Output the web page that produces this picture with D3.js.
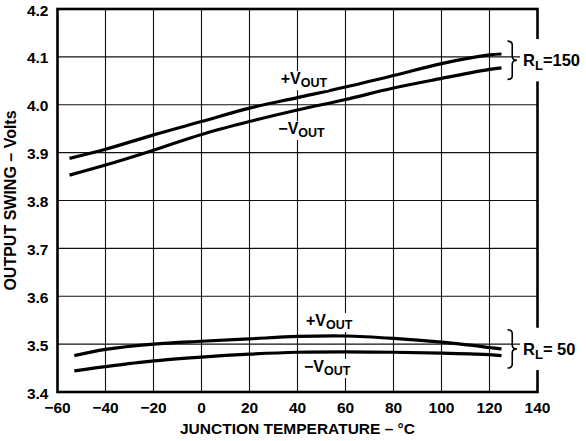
<!DOCTYPE html>
<html>
<head>
<meta charset="utf-8">
<script src="https://cdn.jsdelivr.net/npm/d3@7"></script>
<style>
  html, body { margin: 0; padding: 0; background: #fff; }
  svg { display: block; }
  text { font-family: "Liberation Sans", Arial, Helvetica, sans-serif; font-weight: bold; fill: #000; }
</style>
</head>
<body>
<svg id="chart" width="586" height="441"></svg>
<script>
// Output swing vs junction temperature, two load resistances
const tempTicks = [-60, -40, -20, 0, 20, 40, 60, 80, 100, 120, 140];
const voltTicks = [3.4, 3.5, 3.6, 3.7, 3.8, 3.9, 4.0, 4.1, 4.2];

// R_L = 150
const temps150 = [-55, -40, -20, 0, 20, 40, 60, 80, 100, 120, 125];
const plusOut150 = [3.888, 3.907, 3.937, 3.965, 3.993, 4.015, 4.037, 4.061, 4.086, 4.104, 4.106];
const minusOut150 = [3.853, 3.874, 3.905, 3.938, 3.965, 3.989, 4.011, 4.035, 4.055, 4.074, 4.077];

// R_L = 50
const temps50 = [-53, -40, -20, 0, 20, 40, 60, 80, 100, 120, 125];
const plusOut50 = [3.476, 3.489, 3.500, 3.506, 3.511, 3.516, 3.517, 3.512, 3.504, 3.493, 3.490];
const minusOut50 = [3.444, 3.453, 3.465, 3.473, 3.479, 3.483, 3.484, 3.483, 3.481, 3.478, 3.476];

const svg = d3.select("#chart");
const plotL = 57.5, plotR = 537.5, plotT = 9, plotB = 392;

const x = d3.scaleLinear().domain([-60, 140]).range([plotL, plotR]);
const y = d3.scaleLinear().domain([3.4, 4.2]).range([plotB, plotT]);

// grid
const grid = svg.append("g").attr("stroke", "#111").attr("stroke-width", 1.1);
grid.selectAll("line.v").data(tempTicks.slice(1, -1)).join("line")
  .attr("x1", d => x(d)).attr("x2", d => x(d)).attr("y1", plotT).attr("y2", plotB);
grid.selectAll("line.h").data(voltTicks.slice(1, -1)).join("line")
  .attr("y1", d => y(d)).attr("y2", d => y(d)).attr("x1", plotL).attr("x2", plotR);

// frame
svg.append("rect").attr("x", plotL).attr("y", plotT)
  .attr("width", plotR - plotL).attr("height", plotB - plotT)
  .attr("fill", "none").attr("stroke", "#000").attr("stroke-width", 2.6);

// tick labels
svg.append("g").selectAll("text").data(tempTicks).join("text")
  .attr("x", d => x(d)).attr("y", 413)
  .attr("text-anchor", "middle").attr("font-size", 15.5)
  .text(d => d < 0 ? "\u2212" + Math.abs(d) : d);
svg.append("g").selectAll("text").data(voltTicks).join("text")
  .attr("x", 48.5).attr("y", d => y(d) + 6.5)
  .attr("text-anchor", "end").attr("font-size", 15.5)
  .text(d => d.toFixed(1));

// axis titles
svg.append("text").attr("x", x(40)).attr("y", 434)
  .attr("text-anchor", "middle").attr("font-size", 15.5)
  .text("JUNCTION TEMPERATURE \u2013 \u00B0C");
svg.append("text").attr("transform", `translate(16,${(plotT + plotB) / 2}) rotate(-90)`)
  .attr("text-anchor", "middle").attr("font-size", 16)
  .text("OUTPUT SWING \u2013 Volts");

// curves
const line = d3.line().curve(d3.curveCatmullRom.alpha(0.5));
const series = [
  [temps150, plusOut150], [temps150, minusOut150],
  [temps50, plusOut50], [temps50, minusOut50]
];
svg.append("g").selectAll("path").data(series).join("path")
  .attr("d", ([t, v]) => line(t.map((d, i) => [x(d), y(v[i])])))
  .attr("fill", "none").attr("stroke", "#000").attr("stroke-width", 3.2)
  .attr("stroke-linecap", "butt");

// curve labels with a white knockout behind them
function outLabel(sign, t, v) {
  const g = svg.append("g");
  const bg = g.append("rect").attr("fill", "#fff");
  const txt = g.append("text").attr("x", x(t)).attr("y", y(v)).attr("font-size", 16);
  txt.append("tspan").text(sign + "V");
  txt.append("tspan").attr("font-size", 12.5).attr("dy", 3).text("OUT");
  const b = txt.node().getBBox();
  bg.attr("x", b.x - 1).attr("y", b.y + 1).attr("width", b.width + 2).attr("height", b.height - 1);
}
outLabel("+", 33, 4.043);
outLabel("\u2212", 32, 3.939);
outLabel("+", 43.5, 3.538);
outLabel("\u2212", 42.7, 3.442);

// load brackets
function brace(x0, y0, y1, w) {
  const m = (y0 + y1) / 2, h = w / 2, q = 4;
  return `M${x0},${y0} Q${x0 + h},${y0} ${x0 + h},${y0 + q} L${x0 + h},${m - q} ` +
    `Q${x0 + h},${m} ${x0 + w},${m} Q${x0 + h},${m} ${x0 + h},${m + q} ` +
    `L${x0 + h},${y1 - q} Q${x0 + h},${y1} ${x0},${y1}`;
}
function loadLabel(vTop, vBot, text) {
  const y0 = y(vTop), y1 = y(vBot);
  svg.append("rect").attr("x", 520).attr("y", y0 - 2).attr("width", 66).attr("height", y1 - y0 + 4)
    .attr("fill", "#fff");
  svg.append("path").attr("d", brace(507.5, y0, y1, 9.5))
    .attr("fill", "none").attr("stroke", "#000").attr("stroke-width", 1.6);
  const txt = svg.append("text").attr("x", 523).attr("y", (y0 + y1) / 2 + 6).attr("font-size", 16.5);
  txt.append("tspan").text("R");
  txt.append("tspan").attr("font-size", 13).attr("dy", 4).text("L");
  txt.append("tspan").attr("dy", -4).text(text);
}
loadLabel(4.133, 4.053, "=150");
loadLabel(3.530, 3.450, "= 50");
</script>
</body>
</html>
